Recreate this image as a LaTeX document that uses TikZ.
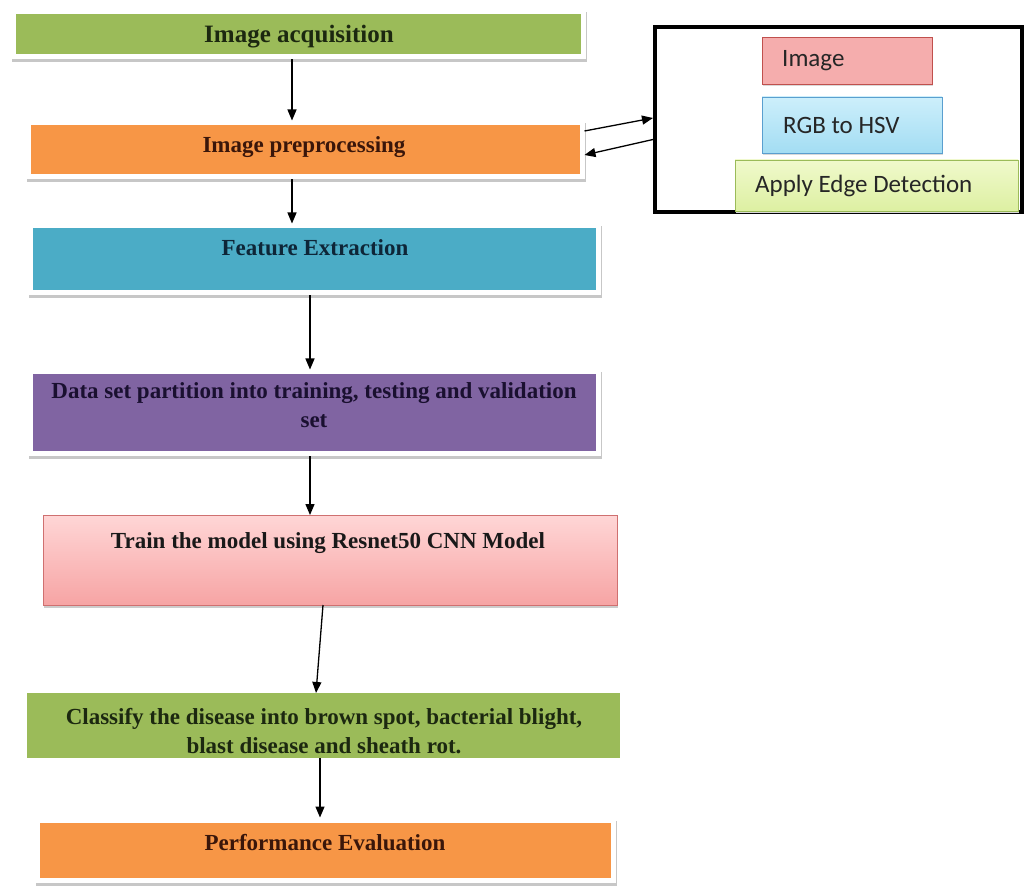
\documentclass[tikz,border=0pt]{standalone}
\usepackage{fontspec}
\setmainfont{Liberation Serif}
\newfontfamily\calfont{Carlito}
\usetikzlibrary{arrows.meta,calc}
\definecolor{cgreen}{HTML}{9BBB59}
\definecolor{corange}{HTML}{F79646}
\definecolor{cblue}{HTML}{4BACC6}
\definecolor{cpurple}{HTML}{8064A2}
\definecolor{tgreen}{HTML}{1C2810}
\definecolor{tbrown}{HTML}{3A160A}
\definecolor{tnavy}{HTML}{0E2638}
\definecolor{tpurple}{HTML}{1A1030}
\definecolor{pinktop}{HTML}{FFD6D6}
\definecolor{pinkbot}{HTML}{F6A4A4}
\definecolor{pinkline}{HTML}{CF7070}
\definecolor{imfill}{HTML}{F5ADAD}
\definecolor{imline}{HTML}{C0504D}
\definecolor{rgbtop}{HTML}{CDEFFB}
\definecolor{rgbbot}{HTML}{A3DDF3}
\definecolor{rgbline}{HTML}{5A9FCF}
\definecolor{edgetop}{HTML}{F0F9CC}
\definecolor{edgebot}{HTML}{DDF0A2}
\definecolor{edgeline}{HTML}{9BBB59}
\tikzset{
  framedbox/.style={draw=white, line width=5pt, outer sep=2.5pt, inner sep=0pt,
    preaction={fill=black!22, draw=black!22, line width=5pt,
      transform canvas={xshift=1pt,yshift=-3pt}}},
  plainbox/.style={inner sep=0pt, outer sep=0pt},
  lbl/.style={font=\fontsize{23}{29}\selectfont\bfseries, align=center, inner sep=0pt},
  clbl/.style={font=\calfont\fontsize{25}{30}\selectfont, anchor=west, inner sep=0pt, text=black!85},
  arr/.style={-{Triangle[length=11pt,width=9pt]}, line width=1.3pt, black},
  smallbox/.style={inner sep=0pt, outer sep=0pt, line width=0.8pt,
    preaction={fill=black!15, transform canvas={xshift=1pt,yshift=-2pt}}}
}
\begin{document}
\begin{tikzpicture}[x=1pt,y=-1pt]
\useasboundingbox[fill=white] (0,0) rectangle (1029,893);

% main flow boxes
\node[framedbox, fill=cgreen, minimum width=570pt, minimum height=45pt] (b1) at (298,34.5) {};
\node[lbl, font=\fontsize{25}{30}\selectfont\bfseries, text=tgreen] (t1) at (299,37) {Image acquisition};

\node[framedbox, fill=corange, minimum width=554pt, minimum height=54pt] (b2) at (305,150) {};
\node[lbl, text=tbrown] (t2) at (304,147) {Image preprocessing};

\node[framedbox, fill=cblue, minimum width=568pt, minimum height=67pt] (b3) at (314,259.5) {};
\node[lbl, text=tnavy] (t3) at (315,248) {Feature Extraction};

\node[framedbox, fill=cpurple, minimum width=568pt, minimum height=82pt] (b4) at (314,413) {};
\node[lbl, text=tpurple] (t4) at (314,405) {Data set partition into training, testing and validation\\set};

\node[plainbox, draw=pinkline, line width=0.8pt, top color=pinktop, bottom color=pinkbot,
  minimum width=574pt, minimum height=90pt,
  preaction={fill=black!20, transform canvas={xshift=1pt,yshift=-3pt}}] (b5) at (330,560) {};
\node[lbl, text=black!90] (t5) at (328,543) {Train the model using Resnet50 CNN Model};

\node[plainbox, fill=cgreen, minimum width=593pt, minimum height=65pt] (b6) at (323.5,725.5) {};
\node[lbl, text=tgreen] (t6) at (324,731) {Classify the disease into brown spot, bacterial blight,\\blast disease and sheath rot.};

\node[framedbox, fill=corange, minimum width=576pt, minimum height=60pt] (b7) at (325,850) {};
\node[lbl, text=tbrown] (t7) at (325,843) {Performance Evaluation};

% right panel
\node[draw=black, line width=4pt, inner sep=0pt, minimum width=367pt, minimum height=185pt] (pan) at (838.5,119.5) {};
\node[smallbox, draw=imline, fill=imfill, minimum width=170pt, minimum height=47pt] (im) at (847,60.5) {};
\node[clbl] (tim) at ([xshift=20pt]im.west) {Image};
\node[smallbox, draw=rgbline, top color=rgbtop, bottom color=rgbbot, minimum width=180pt, minimum height=56pt] (rgb) at (852,125) {};
\node[clbl] (trgb) at ([xshift=21pt]rgb.west) {RGB to HSV};
\node[smallbox, draw=edgeline, top color=edgetop, bottom color=edgebot, minimum width=283pt, minimum height=51pt] (edge) at (876.5,185.5) {};
\node[clbl] (tedge) at ([xshift=20pt]edge.west) {Apply Edge Detection};

% connectors
\draw[arr] ([xshift=-6pt]b1.south) -- ([xshift=-13pt]b2.north);
\draw[arr] ([xshift=-13pt]b2.south) -- ([xshift=-22pt]b3.north);
\draw[arr] ([xshift=-4pt]b3.south) -- ([xshift=-4pt]b4.north);
\draw[arr] ([xshift=-4pt]b4.south) -- ([xshift=-20pt]b5.north);
\draw[arr] ([xshift=-7pt]b5.south) -- ([xshift=-7.5pt]b6.north);
\draw[arr] ([xshift=-3.5pt]b6.south) -- ([xshift=-5pt]b7.north);
\draw[arr] ([yshift=19pt]b2.east) -- ([yshift=1.5pt]pan.west);
\draw[arr] ([yshift=-20pt]pan.west) -- ([yshift=-5pt]b2.east);
\end{tikzpicture}
\end{document}
